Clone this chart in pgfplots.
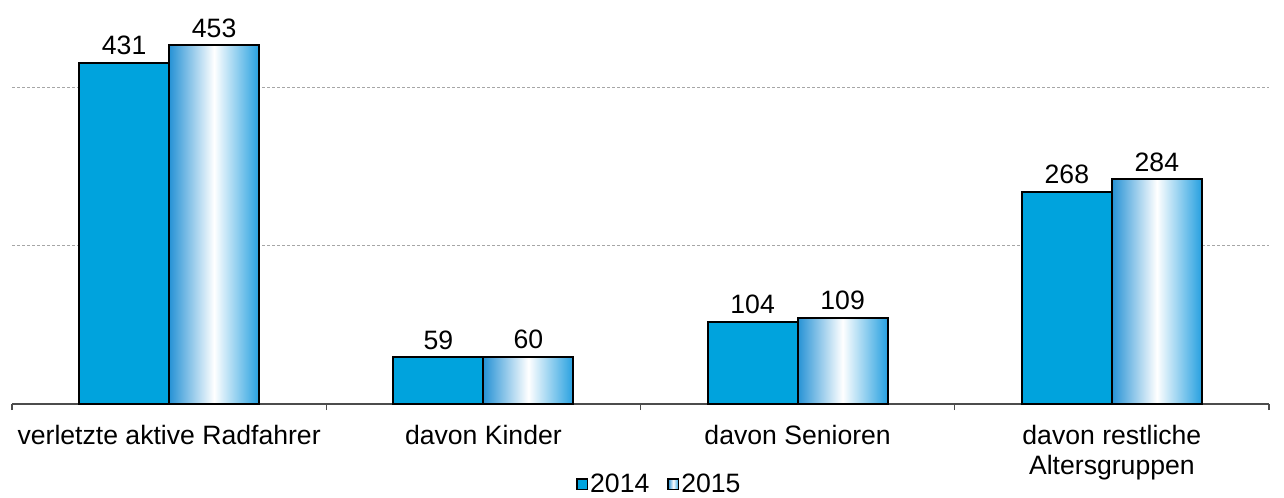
\documentclass[border=0pt]{standalone}
\usepackage{fontspec}
\setmainfont{Liberation Sans}
\usepackage{pgfplots}
\pgfplotsset{compat=1.18}
\definecolor{blueA}{RGB}{0,163,221}
\definecolor{blueL}{RGB}{38,146,213}
\definecolor{blueR}{RGB}{38,160,224}
\begin{document}
\begin{tikzpicture}
\begin{axis}[
  scale only axis, width=628.5pt, height=197.9pt,
  xmin=-0.5, xmax=3.5, ymin=0, ymax=500,
  axis x line*=bottom, axis y line*=left,
  y axis line style={draw=none},
  x axis line style={draw=black!70, line width=0.6pt},
  ybar, bar width=45pt,
  xtick={0,1,2,3},
  xticklabels={verletzte aktive Radfahrer, davon Kinder, davon Senioren, {davon restliche\\Altersgruppen}},
  xticklabel style={align=center, font=\fontsize{13.3}{15}\selectfont, anchor=north, yshift=-7pt},
  major tick length=0pt,
  extra x ticks={-0.5,0.5,1.5,2.5,3.5}, extra x tick labels={},
  extra x tick style={major tick length=3pt, tick align=outside, tick style={draw=black!70, line width=0.6pt}},
  ytick={200,400}, yticklabels={}, ymajorgrids, ytick style={draw=none},
  major grid style={dash pattern=on 1.5pt off 1pt, black!35, line width=0.4pt},
  /pgf/number format/assume math mode=true,
  nodes near coords, every node near coord/.append style={font=\fontsize{13.3}{15}\selectfont, black},
  legend style={at={(0.515,-0.203)}, anchor=center, draw=none, legend columns=2,
    font=\fontsize{13.3}{15}\selectfont, inner sep=0pt, nodes={inner sep=1pt},
    /tikz/every even column/.append style={column sep=8pt}},
  legend image code/.code={\draw[#1, line width=0.8pt] (0pt,-2.6pt) rectangle (5.2pt,2.6pt);},
  legend cell align=left,
]
\addplot[draw=black, line width=1pt, fill=blueA, bar shift=-22.5pt] coordinates {(0,431) (1,59) (2,104) (3,268)};
\addplot[draw=black, line width=1pt, left color=blueL, right color=blueR, middle color=white, bar shift=22.5pt] coordinates {(0,453)};
\addplot[forget plot, draw=black, line width=1pt, left color=blueL, right color=blueR, middle color=white, bar shift=22.5pt] coordinates {(1,60)};
\addplot[forget plot, draw=black, line width=1pt, left color=blueL, right color=blueR, middle color=white, bar shift=22.5pt] coordinates {(2,109)};
\addplot[forget plot, draw=black, line width=1pt, left color=blueL, right color=blueR, middle color=white, bar shift=22.5pt] coordinates {(3,284)};
\legend{2014,2015}
\coordinate (bl) at (rel axis cs:0,0);
\coordinate (tr) at (rel axis cs:1,1);
\end{axis}
\pgfresetboundingbox
\path ([shift={(-6pt,-46.5pt)}]bl) rectangle ([shift={(7.5pt,4.125pt)}]tr);
\end{tikzpicture}
\end{document}
